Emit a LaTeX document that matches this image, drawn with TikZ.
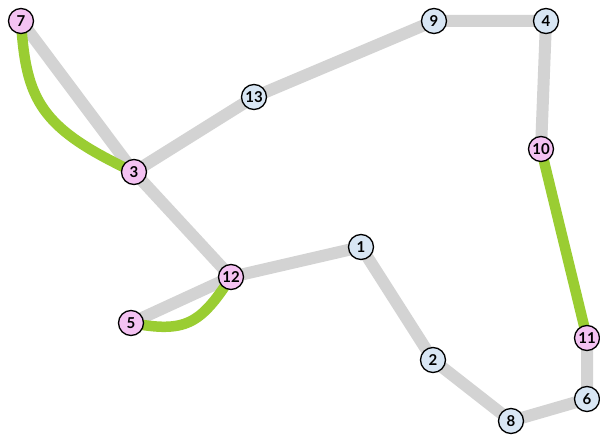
\documentclass[tikz,border=0pt]{standalone}
\usepackage{fontspec}
\setmainfont{Lato}
\definecolor{pinkf}{HTML}{F4C2F2}
\definecolor{bluef}{HTML}{D8E6F4}
\definecolor{edgegray}{HTML}{D3D3D3}
\definecolor{ygreen}{HTML}{9ACD32}
\tikzset{
  vtx/.style={circle, draw=black, line width=1.3pt, minimum size=25pt, inner sep=0pt, font=\fontsize{15}{15}\selectfont\bfseries},
  pk/.style={vtx, fill=pinkf},
  bl/.style={vtx, fill=bluef},
  gedge/.style={draw=edgegray, line width=12pt},
  green/.style={draw=ygreen, line width=10.5pt},
}
\begin{document}
\begin{tikzpicture}[x=1pt,y=-1pt]
\useasboundingbox (0,0) rectangle (600,436);
\coordinate (p7) at (21,21);
\coordinate (p3) at (134,172);
\coordinate (p13) at (254,97);
\coordinate (p9) at (434,21);
\coordinate (p4) at (546,21);
\coordinate (p10) at (541,149);
\coordinate (p11) at (587,338);
\coordinate (p6) at (587,399);
\coordinate (p8) at (511,421);
\coordinate (p2) at (433,360);
\coordinate (p1) at (361,247);
\coordinate (p12) at (231,277);
\coordinate (p5) at (131,323);
\draw[gedge] (p7) -- (p3) -- (p13) -- (p9) -- (p4) -- (p10);
\draw[gedge] (p11) -- (p6) -- (p8) -- (p2) -- (p1) -- (p12) -- (p3);
\draw[gedge] (p12) -- (p5);
\draw[green] (p10) -- (p11);
\draw[green] (p7) .. controls (26,100) and (40,128) .. (p3);
\draw[green] (p5) .. controls (185,333) and (200,325) .. (p12);
\node[pk] (n7) at (p7) {7};
\node[pk] (n3) at (p3) {3};
\node[bl] (n13) at (p13) {13};
\node[bl] (n9) at (p9) {9};
\node[bl] (n4) at (p4) {4};
\node[pk] (n10) at (p10) {10};
\node[pk] (n11) at (p11) {11};
\node[bl] (n6) at (p6) {6};
\node[bl] (n8) at (p8) {8};
\node[bl] (n2) at (p2) {2};
\node[bl] (n1) at (p1) {1};
\node[pk] (n12) at (p12) {12};
\node[pk] (n5) at (p5) {5};
\end{tikzpicture}
\end{document}
